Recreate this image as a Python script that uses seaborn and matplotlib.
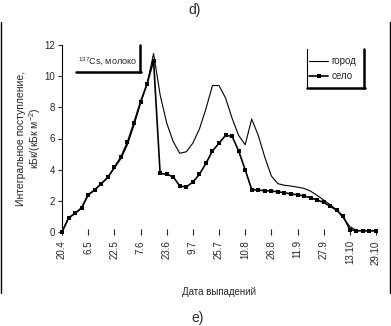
import numpy as np
import pandas as pd
import seaborn as sns
import matplotlib.pyplot as plt
from matplotlib.lines import Line2D

# sampling dates (every 4 days), labels shown on every 4th one
dates = ["20.4", "24.4", "28.4", "2.5", "6.5", "10.5", "14.5", "18.5", "22.5",
         "26.5", "30.5", "3.6", "7.6", "11.6", "15.6", "19.6", "23.6", "27.6",
         "1.7", "5.7", "9.7", "13.7", "17.7", "21.7", "25.7", "29.7", "2.8",
         "6.8", "10.8", "14.8", "18.8", "22.8", "26.8", "30.8", "3.9", "7.9",
         "11.9", "15.9", "19.9", "23.9", "27.9", "1.10", "5.10", "9.10",
         "13.10", "17.10", "21.10", "25.10", "29.10"]

gorod = [0, 0.9, 1.2, 1.55, 2.35, 2.7, 3.1, 3.5, 4.1, 4.7, 5.6, 6.85, 8.25,
         9.5, 11.45, 8.8, 7.0, 5.8, 5.05, 5.15, 5.7, 6.6, 7.9, 9.4, 9.4, 8.6,
         7.3, 6.2, 5.6, 7.25, 6.2, 4.8, 3.6, 3.1, 3.0, 2.95, 2.88, 2.8, 2.62,
         2.35, 2.05, 1.75, 1.4, 0.9, 0.35, 0.1, 0.08, 0.08, 0.08]

selo = [0, 0.9, 1.2, 1.55, 2.4, 2.7, 3.1, 3.5, 4.15, 4.8, 5.75, 7.0, 8.35,
        9.5, 11.0, 3.76, 3.7, 3.55, 2.95, 2.9, 3.2, 3.7, 4.4, 5.2, 5.7, 6.2,
        6.15, 5.2, 4.0, 2.72, 2.69, 2.65, 2.63, 2.58, 2.52, 2.44, 2.39, 2.31,
        2.2, 2.05, 1.9, 1.65, 1.4, 1.0, 0.15, 0.08, 0.08, 0.08, 0.08]

series_names = ["город", "село"]

pos = np.arange(len(dates))
df = pd.DataFrame({"pos": pos, "gorod": gorod, "selo": selo})

sns.set_style("white")
plt.rcParams["font.family"] = ["Liberation Sans", "DejaVu Sans"]
plt.rcParams["mathtext.fontset"] = "custom"
plt.rcParams["mathtext.rm"] = "Liberation Sans"

W, H = 391, 326
fig = plt.figure(figsize=(W / 100, H / 100), dpi=100)
ax = fig.add_axes([62 / W, 1 - 232 / H, (376 - 62) / W, (232 - 45) / H])


def fx(x):
    return x / W


def fy(y):
    return 1 - y / H


sns.lineplot(data=df, x="pos", y="gorod", color="black", linewidth=0.8,
             ax=ax, clip_on=False)
sns.lineplot(data=df, x="pos", y="selo", color="black", linewidth=1.2,
             marker="s", markersize=3.2, markeredgewidth=0, ax=ax,
             clip_on=False)

ax.set_xlim(0, 48)
ax.set_ylim(0, 12)
ax.set_yticks(range(0, 13, 2))
ax.set_xticks(pos[::4])
ax.set_xticklabels(dates[::4], rotation=90, fontsize=7)
ax.tick_params(axis="y", labelsize=7, length=3, width=0.8, direction="out",
               left=True, pad=2)
ax.tick_params(axis="x", length=4, width=0.8, direction="inout", bottom=True,
               pad=4)
for side in ["top", "right", "bottom"]:
    ax.spines[side].set_visible(False)
ax.spines["left"].set_color("black")
ax.spines["left"].set_linewidth(0.8)

ax.set_xlabel("Дата выпадений", fontsize=7, labelpad=16)
ax.set_ylabel("Интегральное поступление,\nкБк/(кБк м$^{-2}$)", fontsize=7.5,
              labelpad=1, linespacing=1.1)

# inset caption box with shadow
fig.text(fx(78), fy(62), "$^{137}$Cs, молоко", fontsize=6.5, va="center",
         ha="left")
fig.add_artist(Line2D([fx(76), fx(141)], [fy(72), fy(72)], color="black",
                      lw=1.8, transform=fig.transFigure))
fig.add_artist(Line2D([fx(140), fx(140)], [fy(45), fy(72)], color="black",
                      lw=1.8, transform=fig.transFigure))

# legend box
fig.add_artist(Line2D([fx(307), fx(307)], [fy(49), fy(88)], color="black",
                      lw=0.8, transform=fig.transFigure))
fig.add_artist(Line2D([fx(307), fx(365)], [fy(88), fy(88)], color="black",
                      lw=1.8, transform=fig.transFigure))
fig.add_artist(Line2D([fx(364), fx(364)], [fy(49), fy(88)], color="black",
                      lw=1.8, transform=fig.transFigure))
handles = [Line2D([], [], color="black", lw=0.8),
           Line2D([], [], color="black", lw=1.2, marker="s", markersize=3.2,
                  markeredgewidth=0)]
fig.legend(handles, series_names, loc="upper left",
           bbox_to_anchor=(fx(309), fy(56)), frameon=False, fontsize=7,
           handlelength=2.0, handletextpad=0.3, labelspacing=0.55,
           borderaxespad=0, borderpad=0)

# outer frame and panel letters
fig.add_artist(Line2D([fx(1), fx(1)], [fy(22), fy(293)], color="black",
                      lw=1.0, transform=fig.transFigure))
fig.add_artist(Line2D([fx(389.5), fx(389.5)], [fy(22), fy(293)],
                      color="black", lw=1.0, transform=fig.transFigure))
fig.text(fx(195), fy(10), "d)", fontsize=10, ha="center", va="center")
fig.text(fx(198), fy(318), "e)", fontsize=10, ha="center", va="center")

fig.savefig("out.png", dpi=100)
